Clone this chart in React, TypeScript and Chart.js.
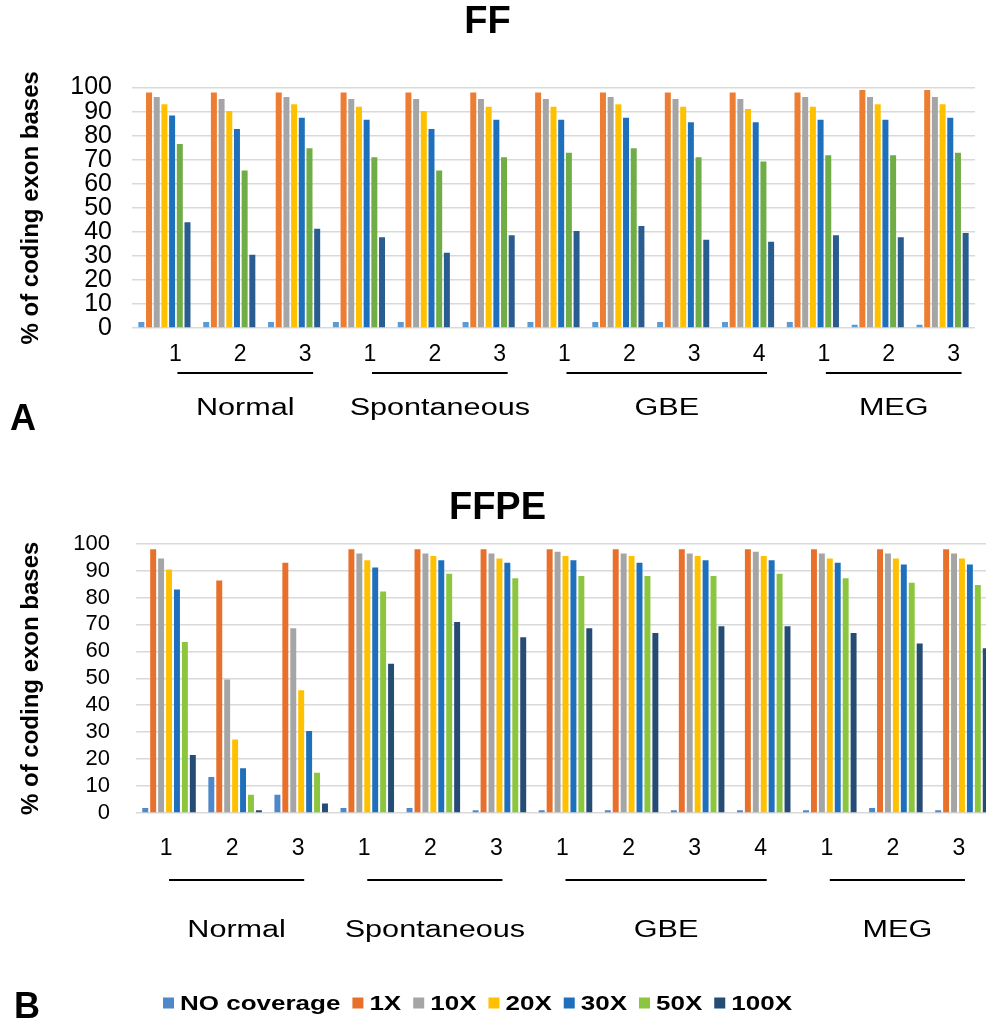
import React, { useEffect, useRef } from 'react';
import { Chart, registerables } from 'chart.js';

Chart.register(...registerables);

// ---------- data ----------
const categories = ['1', '2', '3', '1', '2', '3', '1', '2', '3', '4', '1', '2', '3'];
const seriesNames = ['NO coverage', '1X', '10X', '20X', '30X', '50X', '100X'];
const groupNames = ['Normal', 'Spontaneous', 'GBE', 'MEG'];
const groupFirst = [0, 3, 6, 10];
const groupLast = [2, 5, 9, 12];
const yMin = 0;
const yMax = 100;
const yStep = 10;

// FF (panel A)
const ffNoCoverage = [2.5, 2.5, 2.5, 2.5, 2.5, 2.5, 2.5, 2.5, 2.5, 2.5, 2.5, 1.4, 1.4];
const ff1X = [98, 98, 98, 98, 98, 98, 98, 98, 98, 98, 98, 99, 99];
const ff10X = [96.1, 95.3, 96.1, 95.3, 95.3, 95.3, 95.3, 96.1, 95.3, 95.3, 96.1, 96.1, 96.1];
const ff20X = [93.1, 90.3, 93.1, 92, 90.3, 92, 92, 93.1, 92, 91.1, 92, 93.1, 93.1];
const ff30X = [88.4, 82.8, 87.5, 86.6, 82.8, 86.6, 86.6, 87.5, 85.6, 85.6, 86.6, 86.6, 87.5];
const ff50X = [76.5, 65.5, 74.8, 71, 65.5, 71, 72.9, 74.8, 71, 69.3, 71.9, 71.9, 72.9];
const ff100X = [44, 30.5, 41.3, 37.7, 31.3, 38.6, 40.4, 42.4, 36.7, 35.9, 38.6, 37.7, 39.5];

// FFPE (panel B)
const ffpeNoCoverage = [1.9, 13.4, 6.8, 1.9, 1.9, 1.0, 1.0, 1.0, 1.0, 1.0, 1.0, 1.9, 1.0];
const ffpe1X = [97.9, 86.3, 92.9, 97.9, 97.9, 97.9, 97.9, 97.9, 97.9, 97.9, 97.9, 97.9, 97.9];
const ffpe10X = [94.5, 49.6, 68.6, 96.3, 96.3, 96.3, 97, 96.3, 96.3, 97, 96.3, 96.3, 96.3];
const ffpe20X = [90.4, 27.3, 45.6, 93.8, 95.4, 94.5, 95.4, 95.4, 95.4, 95.4, 94.5, 94.5, 94.5];
const ffpe30X = [83, 16.6, 30.4, 91.1, 93.8, 92.9, 93.8, 92.9, 93.8, 93.8, 92.9, 92.2, 92.2];
const ffpe50X = [63.5, 6.8, 14.9, 82.2, 88.8, 87.1, 88, 88, 88, 88.8, 87.1, 85.5, 84.6];
const ffpe100X = [21.5, 1.0, 3.5, 55.4, 70.9, 65.2, 68.6, 66.8, 69.3, 69.3, 66.8, 62.9, 61.2];

// ---------- styles ----------
const ffColors = ['#5B9BD5', '#ED7D31', '#A5A5A5', '#FFC000', '#1F70BC', '#70AD47', '#2A5D8F'];
const ffpeColors = ['#4E88CB', '#E8702A', '#A5A5A5', '#FFC000', '#1F70BC', '#8CC63F', '#254C74'];
const FONT = '"Liberation Sans", Arial, Helvetica, sans-serif';

function drawStretched(
  ctx: CanvasRenderingContext2D,
  text: string,
  x: number,
  y: number,
  font: string,
  sx: number,
  align: CanvasTextAlign,
  baseline: CanvasTextBaseline = 'middle'
) {
  ctx.save();
  ctx.translate(x, y);
  ctx.scale(sx, 1);
  ctx.font = font;
  ctx.textAlign = align;
  ctx.textBaseline = baseline;
  ctx.fillStyle = '#000';
  ctx.fillText(text, 0, 0);
  ctx.restore();
}

const groupPlugin = {
  id: 'groupLabels',
  afterDraw(chart: any, _args: any, opts: any) {
    const { ctx } = chart;
    const xs = chart.scales.x;
    const off = xs.options.ticks.labelOffset || 0;
    ctx.save();
    ctx.strokeStyle = '#000';
    ctx.lineWidth = 2;
    groupNames.forEach((name, g) => {
      const x1 = xs.getPixelForValue(groupFirst[g]) + off + opts.lineStart;
      const x2 = xs.getPixelForValue(groupLast[g]) + off + opts.lineEnd;
      ctx.beginPath();
      ctx.moveTo(x1, opts.lineY);
      ctx.lineTo(x2, opts.lineY);
      ctx.stroke();
      drawStretched(ctx, name, (x1 + x2) / 2, opts.nameY, `23px ${FONT}`, 1.33, 'center');
    });
    drawStretched(ctx, opts.letter, opts.letterX, opts.letterY, `bold 36px ${FONT}`, 1, 'left', 'alphabetic');

    if (opts.legend) {
      let x = opts.legendX;
      const y = opts.legendY;
      const font = `bold 20px ${FONT}`;
      seriesNames.forEach((name, i) => {
        ctx.fillStyle = opts.colors[i];
        ctx.fillRect(x, y - 5.5, 11, 11);
        x += 17;
        ctx.font = font;
        const w = ctx.measureText(name).width * 1.3;
        drawStretched(ctx, name, x, y + 1, font, 1.3, 'left');
        x += w + 12;
      });
    }
    ctx.restore();
  },
};

function makeConfig(p: any) {
  const values = p.values as number[][];
  return {
    type: 'bar' as const,
    data: {
      labels: categories,
      datasets: seriesNames.map((name, i) => ({
        label: name,
        data: values[i],
        backgroundColor: p.colors[i],
        borderWidth: 0,
        categoryPercentage: p.catPct,
        barPercentage: p.barPct,
      })),
    },
    options: {
      responsive: true,
      maintainAspectRatio: false,
      animation: false as const,
      events: [],
      layout: { padding: p.layoutPadding },
      plugins: {
        legend: { display: false },
        tooltip: { enabled: false },
        title: {
          display: true,
          text: p.title,
          color: '#000',
          font: { family: FONT, size: 38, weight: 'bold' as const },
          padding: p.titlePadding,
        },
        groupLabels: p.groupOpts,
      },
      scales: {
        x: {
          type: 'category' as const,
          offset: true,
          grid: { display: false },
          border: { display: false },
          ticks: {
            color: '#000',
            font: { family: FONT, size: 23 },
            padding: p.xTickPad,
            labelOffset: p.labelOffset,
            maxRotation: 0,
            autoSkip: false,
          },
          afterFit: (s: any) => {
            s.height = p.xHeight;
          },
        },
        y: {
          min: yMin,
          max: yMax,
          border: { display: false },
          grid: { color: '#D9D9D9', lineWidth: 1.5, drawTicks: false },
          ticks: {
            stepSize: yStep,
            autoSkip: false,
            color: '#000',
            font: { family: FONT, size: p.yTickSize },
            padding: p.yTickPad,
          },
          title: {
            display: true,
            text: '% of coding exon bases',
            color: '#000',
            font: { family: FONT, size: 24, weight: 'bold' as const },
            padding: { top: 17, bottom: 0 },
          },
          afterFit: (s: any) => {
            s.width = p.yWidth;
          },
        },
      },
    },
    plugins: [groupPlugin],
  };
}

function ChartPanel({ config, style }: { config: any; style: React.CSSProperties }) {
  const ref = useRef<HTMLCanvasElement | null>(null);
  useEffect(() => {
    if (!ref.current) return;
    const chart = new Chart(ref.current, config);
    return () => chart.destroy();
  }, [config]);
  return (
    <div style={{ position: 'absolute', ...style }}>
      <canvas ref={ref} />
    </div>
  );
}

const ffConfig = makeConfig({
  title: 'FF',
  values: [ffNoCoverage, ff1X, ff10X, ff20X, ff30X, ff50X, ff100X],
  colors: ffColors,
  catPct: 0.83,
  barPct: 0.78,
  layoutPadding: { left: 0, right: 11, top: 0, bottom: 82 },
  titlePadding: { top: 0, bottom: 42 },
  xTickPad: 5,
  labelOffset: 11,
  xHeight: 50,
  yTickSize: 25,
  yTickPad: 20,
  yWidth: 132,
  groupOpts: {
    lineStart: 2,
    lineEnd: 8,
    lineY: 373,
    nameY: 409,
    letter: 'A',
    letterX: 10,
    letterY: 430,
    legend: false,
  },
});

const ffpeConfig = makeConfig({
  title: 'FFPE',
  values: [ffpeNoCoverage, ffpe1X, ffpe10X, ffpe20X, ffpe30X, ffpe50X, ffpe100X],
  colors: ffpeColors,
  catPct: 0.84,
  barPct: 0.75,
  layoutPadding: { left: 0, right: 5, top: 0, bottom: 152 },
  titlePadding: { top: 26, bottom: 12 },
  xTickPad: 14,
  labelOffset: -3,
  xHeight: 60,
  yTickSize: 22,
  yTickPad: 26,
  yWidth: 136,
  groupOpts: {
    lineStart: 3,
    lineEnd: 6,
    lineY: 420,
    nameY: 471,
    letter: 'B',
    letterX: 14,
    letterY: 558,
    legend: true,
    legendX: 163,
    legendY: 543,
    colors: ffpeColors,
  },
});

export default function App() {
  return (
    <div
      style={{
        position: 'absolute',
        left: 0,
        top: 0,
        width: 986,
        height: 1025,
        overflow: 'hidden',
        background: '#fff',
      }}
    >
      <ChartPanel config={ffConfig} style={{ left: 0, top: 0, width: 986, height: 460 }} />
      <ChartPanel config={ffpeConfig} style={{ left: 0, top: 460, width: 1000, height: 565 }} />
    </div>
  );
}
